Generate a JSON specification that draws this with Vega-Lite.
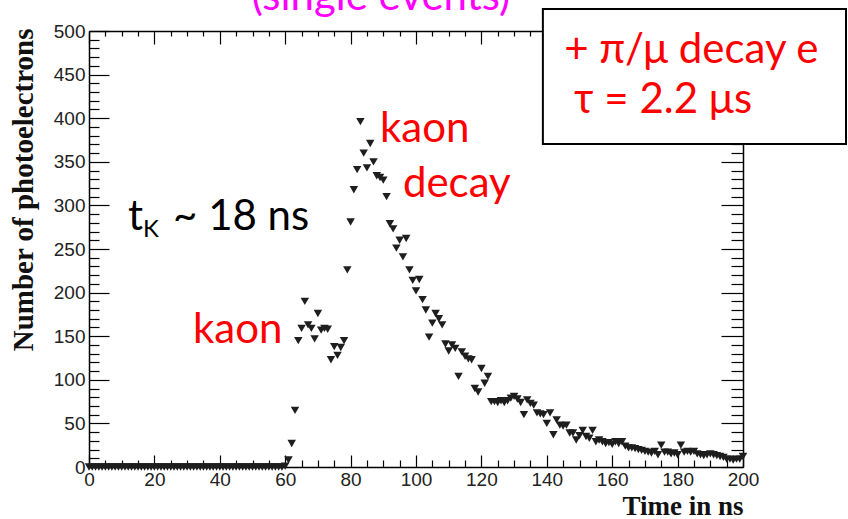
{
  "$schema": "https://vega.github.io/schema/vega-lite/v6.json",
  "width": 654,
  "height": 436,
  "autosize": {"type": "none"},
  "padding": {"left": 89, "top": 31, "right": 105, "bottom": 52},
  "background": "white",
  "config": {
    "view": {"stroke": null},
    "axis": {
      "domainColor": "#000", "tickColor": "#000", "grid": false, "zindex": 0,
      "labelFont": "Liberation Sans", "labelColor": "#222", "labelFontSize": 19,
      "labelFlush": false, "labelOverlap": false,
      "titleFont": "Liberation Serif", "titleFontWeight": "bold", "titleFontSize": 29, "titleColor": "#111",
      "tickWidth": 1.2, "domainWidth": 1.5
    }
  },
  "resolve": {"axis": {"x": "independent", "y": "independent"}},
  "layer": [
    {
      "data": {"values": [
        {"t":0,"n":0},{"t":1,"n":0},{"t":2,"n":0},{"t":3,"n":0},{"t":4,"n":0},{"t":5,"n":0},{"t":6,"n":0},{"t":7,"n":0},{"t":8,"n":0},{"t":9,"n":0},
        {"t":10,"n":0},{"t":11,"n":0},{"t":12,"n":0},{"t":13,"n":0},{"t":14,"n":0},{"t":15,"n":0},{"t":16,"n":0},{"t":17,"n":0},{"t":18,"n":0},{"t":19,"n":0},
        {"t":20,"n":0},{"t":21,"n":0},{"t":22,"n":0},{"t":23,"n":0},{"t":24,"n":0},{"t":25,"n":0},{"t":26,"n":0},{"t":27,"n":0},{"t":28,"n":0},{"t":29,"n":0},
        {"t":30,"n":0},{"t":31,"n":0},{"t":32,"n":0},{"t":33,"n":0},{"t":34,"n":0},{"t":35,"n":0},{"t":36,"n":0},{"t":37,"n":0},{"t":38,"n":0},{"t":39,"n":0},
        {"t":40,"n":0},{"t":41,"n":0},{"t":42,"n":0},{"t":43,"n":0},{"t":44,"n":0},{"t":45,"n":0},{"t":46,"n":0},{"t":47,"n":0},{"t":48,"n":0},{"t":49,"n":0},
        {"t":50,"n":0},{"t":51,"n":0},{"t":52,"n":0},{"t":53,"n":0},{"t":54,"n":0},{"t":55,"n":0},{"t":56,"n":0},{"t":57,"n":0},{"t":58,"n":0},{"t":59,"n":0},
        {"t":60,"n":1},{"t":61,"n":8},{"t":62,"n":27},{"t":63,"n":65},{"t":64,"n":145},{"t":65,"n":159},{"t":66,"n":190},{"t":67,"n":163},{"t":68,"n":159},{"t":69,"n":147},
        {"t":70,"n":176},{"t":71,"n":157},{"t":72,"n":159},{"t":73,"n":158},{"t":74,"n":123},{"t":75,"n":138},{"t":76,"n":128},{"t":77,"n":137},{"t":78,"n":145},{"t":79,"n":226},
        {"t":80,"n":281},{"t":81,"n":318},{"t":82,"n":341},{"t":83,"n":396},{"t":84,"n":360},{"t":85,"n":343},{"t":86,"n":371},{"t":87,"n":350},{"t":88,"n":334},{"t":89,"n":332},
        {"t":90,"n":329},{"t":91,"n":310},{"t":92,"n":279},{"t":93,"n":273},{"t":94,"n":251},{"t":95,"n":260},{"t":96,"n":241},{"t":97,"n":262},{"t":98,"n":226},{"t":99,"n":214},
        {"t":100,"n":202},{"t":101,"n":215},{"t":102,"n":192},{"t":103,"n":180},{"t":104,"n":149},{"t":105,"n":165},{"t":106,"n":176},{"t":107,"n":170},{"t":108,"n":163},{"t":109,"n":141},
        {"t":110,"n":133},{"t":111,"n":140},{"t":112,"n":136},{"t":113,"n":104},{"t":114,"n":132},{"t":115,"n":127},{"t":116,"n":124},{"t":117,"n":123},{"t":118,"n":90},{"t":119,"n":86},
        {"t":120,"n":113},{"t":121,"n":96},{"t":122,"n":104},{"t":123,"n":75},{"t":124,"n":75},{"t":125,"n":74},{"t":126,"n":76},{"t":127,"n":74},{"t":128,"n":76},{"t":129,"n":79},
        {"t":130,"n":81},{"t":131,"n":78},{"t":132,"n":74},{"t":133,"n":60},{"t":134,"n":77},{"t":135,"n":73},{"t":136,"n":71},{"t":137,"n":62},{"t":138,"n":61},{"t":139,"n":60},
        {"t":140,"n":50},{"t":141,"n":62},{"t":142,"n":37},{"t":143,"n":54},{"t":144,"n":48},{"t":145,"n":47},{"t":146,"n":48},{"t":147,"n":39},{"t":148,"n":39},{"t":149,"n":31},
        {"t":150,"n":36},{"t":151,"n":42},{"t":152,"n":35},{"t":153,"n":33},{"t":154,"n":42},{"t":155,"n":29},{"t":156,"n":31},{"t":157,"n":29},{"t":158,"n":27},{"t":159,"n":28},
        {"t":160,"n":26},{"t":161,"n":29},{"t":162,"n":27},{"t":163,"n":29},{"t":164,"n":24},{"t":165,"n":22},{"t":166,"n":22},{"t":167,"n":21},{"t":168,"n":20},{"t":169,"n":19},
        {"t":170,"n":18},{"t":171,"n":17},{"t":172,"n":16},{"t":173,"n":18},{"t":174,"n":14},{"t":175,"n":25},{"t":176,"n":17},{"t":177,"n":17},{"t":178,"n":15},{"t":179,"n":16},
        {"t":180,"n":14},{"t":181,"n":25},{"t":182,"n":17},{"t":183,"n":18},{"t":184,"n":17},{"t":185,"n":18},{"t":186,"n":15},{"t":187,"n":14},{"t":188,"n":13},{"t":189,"n":14},
        {"t":190,"n":15},{"t":191,"n":14},{"t":192,"n":13},{"t":193,"n":12},{"t":194,"n":11},{"t":195,"n":9},{"t":196,"n":9},{"t":197,"n":8},{"t":198,"n":9},{"t":199,"n":9},
        {"t":200,"n":12}
      ]},
      "mark": {"type": "point", "shape": "triangle-down", "filled": true, "size": 72, "color": "#1e1e1e", "opacity": 1},
      "encoding": {
        "x": {"field": "t", "type": "quantitative",
          "scale": {"domain": [0, 200], "nice": false, "zero": false},
          "axis": {"orient": "bottom", "values": [0,20,40,60,80,100,120,140,160,180,200], "tickSize": -12, "labelPadding": 15,
            "title": "Time in ns", "titleFontSize": 27, "titleX": 654, "titleY": 47, "titleAlign": "right", "titleBaseline": "alphabetic"}},
        "y": {"field": "n", "type": "quantitative",
          "scale": {"domain": [0, 500], "nice": false},
          "axis": {"orient": "left", "values": [0,50,100,150,200,250,300,350,400,450,500], "tickSize": -20, "labelPadding": 24,
            "title": "Number of photoelectrons", "titleX": -57, "titleY": -3, "titleAngle": -90, "titleAlign": "right", "titleBaseline": "alphabetic"}}
      }
    },
    {
      "data": {"values": [
        {"label": "kaon", "x": 89.0, "y": 372.7},
        {"label": "decay", "x": 96.0, "y": 309.6},
        {"label": "kaon", "x": 31.8, "y": 142.2}
      ]},
      "mark": {"type": "text", "font": "Lato", "fontSize": 42, "color": "#ff0000", "align": "left", "baseline": "alphabetic"},
      "encoding": {
        "x": {"field": "x", "type": "quantitative",
          "axis": {"orient": "bottom", "values": [5,10,15,25,30,35,45,50,55,65,70,75,85,90,95,105,110,115,125,130,135,145,150,155,165,170,175,185,190,195], "tickSize": -7, "labels": false, "domain": false, "title": null}},
        "y": {"field": "y", "type": "quantitative",
          "axis": {"orient": "left", "values": [10,20,30,40,60,70,80,90,110,120,130,140,160,170,180,190,210,220,230,240,260,270,280,290,310,320,330,340,360,370,380,390,410,420,430,440,460,470,480,490], "tickSize": -10, "labels": false, "domain": false, "title": null}},
        "text": {"field": "label"}
      }
    },
    {
      "data": {"values": [
        {"label": "t", "x": 11.9, "y": 271.8},
        {"label": "~ 18 ns", "x": 25.7, "y": 271.8}
      ]},
      "mark": {"type": "text", "font": "Lato", "fontSize": 42, "color": "#000000", "align": "left", "baseline": "alphabetic"},
      "encoding": {
        "x": {"field": "x", "type": "quantitative",
          "axis": {"orient": "top", "values": [0,20,40,60,80,100,120,140,160,180,200], "tickSize": -13, "labels": false, "domain": true, "title": null}},
        "y": {"field": "y", "type": "quantitative",
          "axis": {"orient": "right", "values": [0,50,100,150,200,250,300,350,400,450,500], "tickSize": -22, "labels": false, "domain": true, "title": null}},
        "text": {"field": "label"}
      }
    },
    {
      "data": {"values": [
        {"label": "(single events)", "x": 89.3, "y": 524}
      ]},
      "mark": {"type": "text", "font": "Lato", "fontSize": 42, "color": "#ff00ff", "align": "center", "baseline": "alphabetic"},
      "encoding": {
        "x": {"field": "x", "type": "quantitative",
          "axis": {"orient": "top", "values": [5,10,15,25,30,35,45,50,55,65,70,75,85,90,95,105,110,115,125,130,135,145,150,155,165,170,175,185,190,195], "tickSize": -5, "labels": false, "domain": false, "title": null}},
        "y": {"field": "y", "type": "quantitative",
          "axis": {"orient": "right", "values": [10,20,30,40,60,70,80,90,110,120,130,140,160,170,180,190,210,220,230,240,260,270,280,290,310,320,330,340,360,370,380,390,410,420,430,440,460,470,480,490], "tickSize": -12, "labels": false, "domain": false, "title": null}},
        "text": {"field": "label"}
      }
    },
    {
      "data": {"values": [
        {"label": "K", "x": 16.5, "y": 264}
      ]},
      "mark": {"type": "text", "font": "Lato", "fontSize": 24, "color": "#000000", "align": "left", "baseline": "alphabetic"},
      "encoding": {
        "x": {"field": "x", "type": "quantitative", "axis": null},
        "y": {"field": "y", "type": "quantitative", "axis": null},
        "text": {"field": "label"}
      }
    },
    {
      "data": {"values": [
        {"x": 138.8, "x2": 231.5, "y": 525.2, "y2": 370.4}
      ]},
      "mark": {"type": "rect", "fill": "white", "stroke": "black", "strokeWidth": 2},
      "encoding": {
        "x": {"field": "x", "type": "quantitative", "axis": null},
        "x2": {"field": "x2"},
        "y": {"field": "y", "type": "quantitative", "axis": null},
        "y2": {"field": "y2"}
      }
    },
    {
      "data": {"values": [
        {"label": "+ π/μ decay e", "x": 145.3, "y": 463},
        {"label": "τ = 2.2 μs", "x": 148.3, "y": 406}
      ]},
      "mark": {"type": "text", "font": "Lato", "fontSize": 42, "color": "#ff0000", "align": "left", "baseline": "alphabetic"},
      "encoding": {
        "x": {"field": "x", "type": "quantitative", "axis": null},
        "y": {"field": "y", "type": "quantitative", "axis": null},
        "text": {"field": "label"}
      }
    }
  ]
}
